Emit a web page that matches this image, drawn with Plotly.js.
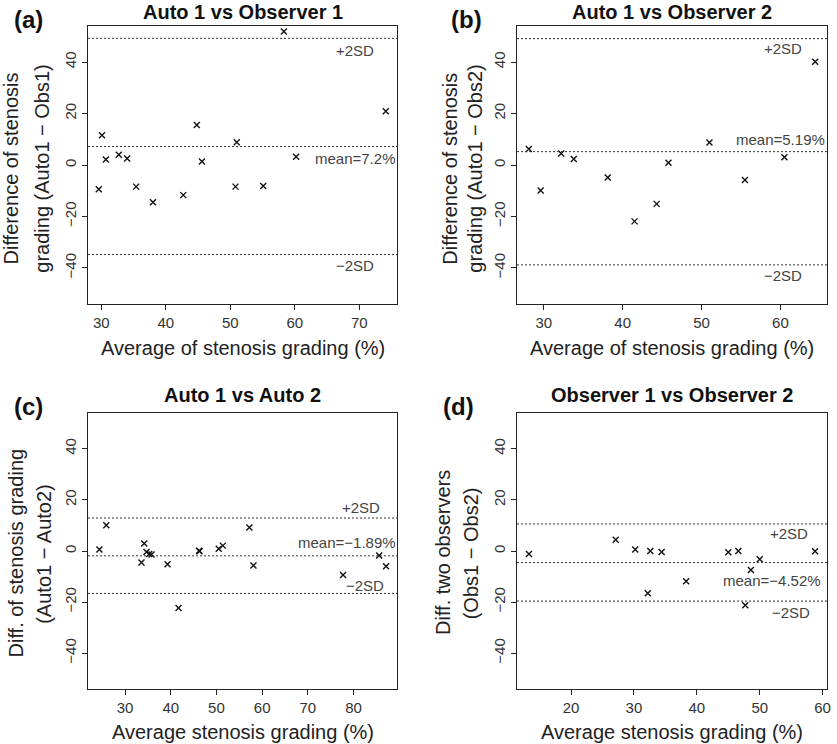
<!DOCTYPE html>
<html>
<head>
<meta charset="utf-8">
<script src="https://cdn.plot.ly/plotly-3.0.1.min.js"></script>
<style>
  html, body { margin: 0; padding: 0; background: #fff; }
  #chart { width: 837px; height: 744px; }
</style>
</head>
<body>
<div id="chart"></div>
<script>
// (a) Auto 1 vs Observer 1
const aAvg  = [29.6, 30.1, 30.7, 32.7, 34.0, 35.4, 38.0, 42.7, 44.8, 45.6, 50.8, 51.0, 55.1, 58.3, 60.2, 74.1];
const aDiff = [-9.4, 11.6, 2.1, 4.0, 2.5, -8.4, -14.5, -11.7, 15.5, 1.4, -8.4, 8.8, -8.2, 51.9, 3.2, 20.9];
const aLines = [49.2, 7.2, -34.8];

// (b) Auto 1 vs Observer 2
const bAvg  = [28.1, 29.6, 32.2, 33.8, 38.1, 41.5, 44.3, 45.8, 51.0, 55.5, 60.5, 64.4];
const bDiff = [6.2, -9.9, 4.5, 2.3, -4.9, -21.9, -15.1, 0.9, 8.7, -5.8, 3.0, 40.1];
const bLines = [49.1, 5.19, -38.8];

// (c) Auto 1 vs Auto 2
const cAvg  = [24.4, 25.9, 33.6, 34.2, 34.7, 35.3, 35.8, 39.3, 41.7, 46.2, 46.3, 50.5, 51.4, 57.2, 58.1, 77.7, 85.6, 87.1];
const cDiff = [0.6, 10.1, -4.5, 2.9, -0.4, -1.2, -1.4, -5.2, -22.3, 0.1, -0.1, 0.9, 2.1, 9.2, -5.7, -9.4, -1.8, -6.0];
const cLines = [12.9, -1.89, -16.6];

// (d) Observer 1 vs Observer 2
const dAvg  = [13.3, 27.1, 30.2, 32.2, 32.6, 34.4, 38.3, 45.0, 46.6, 47.7, 48.6, 50.0, 58.8];
const dDiff = [-1.2, 4.4, 0.6, -16.5, 0.0, -0.4, -11.8, -0.5, 0.0, -21.2, -7.4, -3.2, -0.1];
const dLines = [10.6, -4.52, -19.6];

const lineLabels = ['+2SD', 'mean=', '\u22122SD'];
const yTicks = [-40, -20, 0, 20, 40];

const W = 837, H = 744;
const M = { l: 10, r: 5, t: 5, b: 5 };
const FONT = '"Liberation Sans", Arial, Helvetica, sans-serif';
// page pixels -> paper fractions (paper = plot area inside the margins)
const px = x => (x - M.l) / (W - M.l - M.r);
const py = y => 1 - (y - M.t) / (H - M.t - M.b);

const panels = [
  { avg: aAvg, diff: aDiff, lines: aLines, letter: '(a)', title: 'Auto 1 vs Observer 1',
    xtitle: 'Average of stenosis grading (%)',
    ytitle: ['Difference of stenosis', 'grading (Auto1 \u2212 Obs1)'],
    box: [88, 397, 26, 304], xrange: [27.93, 75.84],
    yt: [10.5, 41.7], ytc: 169, letterPos: [28, 19.5], titleY: 11.7, xtitleY: 348,
    labelX: [69.4, 69.4, 69.4], labelShift: [-12, -12, -11] },
  { avg: bAvg, diff: bDiff, lines: bLines, letter: '(b)', title: 'Auto 1 vs Observer 2',
    xtitle: 'Average of stenosis grading (%)',
    ytitle: ['Difference of stenosis', 'grading (Auto1 \u2212 Obs2)'],
    box: [517, 827, 26, 304], xrange: [26.6, 65.9],
    yt: [449.7, 474.7], ytc: 169, letterPos: [466, 19.5], titleY: 11.7, xtitleY: 348,
    labelX: [60.3, 60.0, 60.3], labelShift: [-10, 12, -11] },
  { avg: cAvg, diff: cDiff, lines: cLines, letter: '(c)', title: 'Auto 1 vs Auto 2',
    xtitle: 'Average stenosis grading (%)',
    ytitle: ['Diff. of stenosis grading', '(Auto1 \u2212 Auto2)'],
    box: [88, 397, 413, 689], xrange: [21.9, 89.5],
    yt: [15, 43.3], ytc: 553.5, letterPos: [28, 406], titleY: 395.3, xtitleY: 732,
    labelX: [81.7, 78.5, 82.5], labelShift: [11, 13, 8] },
  { avg: dAvg, diff: dDiff, lines: dLines, letter: '(d)', title: 'Observer 1 vs Observer 2',
    xtitle: 'Average stenosis grading (%)',
    ytitle: ['Diff. two observers', '(Obs1 \u2212 Obs2)'],
    box: [517, 827, 413, 689], xrange: [11.4, 60.7],
    yt: [443, 471.3], ytc: 553, letterPos: [458, 406], titleY: 395.3, xtitleY: 732,
    labelX: [54.7, 52.0, 55.0], labelShift: [-10, -18, -11] }
];

const data = [];
const shapes = [];
const annotations = [];
const layout = {
  width: W, height: H,
  margin: M,
  showlegend: false,
  font: { family: FONT, color: '#222' }
};

function paperText( x, y, text, size, color, angle ) {
  return {
    xref: 'paper', yref: 'paper', x: px(x), y: py(y),
    xanchor: 'center', yanchor: 'middle',
    text: text, showarrow: false, textangle: angle || 0,
    font: { family: FONT, size: size, color: color }
  };
}

panels.forEach((p, i) => {
  const n = i === 0 ? '' : String(i + 1);
  const xa = 'x' + n, ya = 'y' + n;
  const [l, r, t, b] = p.box;

  data.push({
    x: p.avg, y: p.diff, xaxis: xa, yaxis: ya,
    type: 'scatter', mode: 'markers',
    marker: { symbol: 'x-thin-open', size: 6, color: '#111', line: { width: 1.4, color: '#111' } }
  });

  layout['xaxis' + n] = {
    domain: [px(l), px(r)], range: p.xrange, dtick: 10, tick0: 0, anchor: ya,
    showline: true, mirror: true, linecolor: '#222', linewidth: 1,
    ticks: 'outside', ticklen: 5, tickcolor: '#222', tickwidth: 1,
    showgrid: false, zeroline: false,
    tickfont: { family: FONT, size: 15, color: '#333' }
  };
  layout['yaxis' + n] = {
    domain: [py(b), py(t)], range: [-54, 54], tickvals: yTicks, tickangle: -90, anchor: xa,
    showline: true, mirror: true, linecolor: '#222', linewidth: 1,
    ticks: 'outside', ticklen: 5, tickcolor: '#222', tickwidth: 1,
    showgrid: false, zeroline: false,
    tickfont: { family: FONT, size: 15, color: '#333' }
  };

  p.lines.forEach((v, k) => {
    shapes.push({
      type: 'line', xref: xa, yref: ya,
      x0: p.xrange[0], x1: p.xrange[1], y0: v, y1: v,
      line: { color: '#333', width: 1, dash: '2px,2px' }
    });
    const txt = k === 1 ? lineLabels[1] + v + '%' : lineLabels[k];
    annotations.push({
      xref: xa, yref: ya, x: p.labelX[k], y: v, yshift: p.labelShift[k],
      xanchor: 'center', yanchor: 'middle',
      text: txt.replace('-', '\u2212'), showarrow: false,
      font: { family: FONT, size: 15, color: '#444' }
    });
  });

  annotations.push(paperText((l + r) / 2, p.titleY, '<b>' + p.title + '</b>', 20, '#111'));
  annotations.push(paperText(p.letterPos[0], p.letterPos[1], '<b>' + p.letter + '</b>', 24, '#111'));
  annotations.push(paperText((l + r) / 2, p.xtitleY, p.xtitle, 20, '#222'));
  p.ytitle.forEach((line, k) => {
    annotations.push(paperText(p.yt[k], p.ytc, line, 20, '#222', -90));
  });
});

layout.shapes = shapes;
layout.annotations = annotations;

Plotly.newPlot('chart', data, layout, { displayModeBar: false, staticPlot: true });
</script>
</body>
</html>
